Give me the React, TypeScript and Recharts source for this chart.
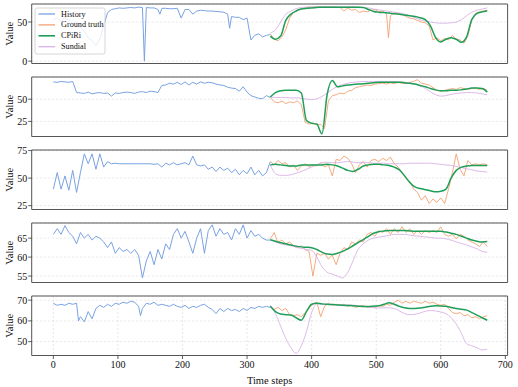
import React from 'react';
import { LineChart, Line, XAxis, YAxis, CartesianGrid, ReferenceArea } from 'recharts';

// ---------- axes / sampling ----------
const X_TICKS = [0, 100, 200, 300, 400, 500, 600, 700];
const X_DOMAIN: [number, number] = [-33.5, 703.5];
const HIST_START = 0;
const HIST_STEP = 6;
const GT_START = 336;
const GT_STEP = 6;
const FC_START = 336;
const FC_STEP = 8;

const SERIES_NAMES = ['History', 'Ground truth', 'CPiRi', 'Sundial'];

// ---------- panel 1 ----------
const p1History = [53,55,50,56,52,48,50,44,38,30, 26,20,28,45,62,66,67,68,67.5,68, 68.5,68,69,68.5,68.5,68,68,66,67.5,67.5, 67,67,67.5,55,66,66,60,64,65,64.5, 64,64,63.5,63,62.5,60,57,56,56,53, 55,27,33,35,31,33,34];
const p1HistorySpikes: [number, number][] = [[141, 0], [165, 60], [273, 42]];
const p1Truth = [35,28,26,31,40,55,62,65,67,68, 69,69,69.5,69,69.5,69,69.5,69,68.5,64, 68,65,66,62,64,63,65,66,63,64, 60,58,62,61,60,57,55,54,52,50, 49,45,27,30,26,29,27,33,28,27, 23,32,53,61,63,64,65];
const p1TruthSpikes: [number, number][] = [[519, 30]];
const p1CPiRi = [32,28,32,52,60,64,66.5,67.5,68,68.5, 69,69,69,69,69,69,69,69,68.5,66, 63.5,62.5,62,61.5,60.5,60,59,58,57,55.5, 53,45,30,24.5,28,30,28,24,31,53, 61,63,64.5];
const p1Sundial = [36,40,50,60,64,67,68.5,69,69.5,69.5, 69.5,69.5,69.5,69.5,69.5,69.5,69.5,69,68.5,68, 66.5,65.5,64.5,63.5,62.5,61.5,60,58,55.5,53, 51,50,49,48.5,48.5,49,50,53,58,62.5, 65,66.5,68];
const p1YTicks = [0, 50];
const p1YDomain: [number, number] = [-3, 73];

// ---------- panel 2 ----------
const p2History = [69.5,69,70,69.5,69,70,57.5,57,56.5,58, 56,57,57.5,56.5,57,53.5,57,56.5,57.5,58, 57.5,56.5,58,58.5,57.5,59,58.5,57.5,65.5,66, 68,67,69,66.5,69.5,66,69,67,69.5,68, 69,68.5,67,66,65.5,63.5,62.5,62,59,64, 58,54,52.5,51,50.5,54,52];
const p2Truth = [52,47,46,48,45,47,46,48,44,24, 22,23,21,22,17,48,54,55,57,56, 59,60,63,64,65,66,65.5,67,67.5,68, 67,68.5,67.5,69,68,67.5,69,70,72,68, 67,66,63,60,59,60,61,62,61,63, 62,61,62,62.5,61,62,60];
const p2CPiRi = [52.5,57.5,59.5,60,60,60,57,26,23,22, 11,55,71,64,65,66,66.5,67,67.5,68, 68.5,69,69,69,69,69,68.5,68,67,65.5, 64,62,60.5,59.5,59.5,60,60,60.5,61.5,62.5, 62.5,62,58];
const p2Sundial = [52.5,52,52,52,51.5,51.5,51,50,49.5,50.5, 53,57,61,64.5,66.5,68,69,69.5,70,70, 70,70,70,70,70,69.5,69,68.5,67,65, 62,58.5,55,53.5,54,55.5,56.5,57,57.5,57.5, 57,56,55];
const p2YTicks = [25, 50];
const p2YDomain: [number, number] = [8, 75];

// ---------- panel 3 ----------
const p3History = [40,55,40,52,39,57,37,55,72,63, 72,58,72,60,65,63,63.5,63,63,63, 63,63,63,63,63,63,62.5,63,60,63.5, 62,64,62,63,64,62,70,62,61,62, 58,60,56,60,57,59,55,58,53,57, 54,60,53,57,52,55,65];
const p3Truth = [65,62,66,63,64,60,62,57,61,63, 60,62,61,64,60,62,52,67,66,70, 68,63,55,62,65,60,66,67,65,68, 66,69,63,60,55,50,47,40,37,30, 34,27,31,28,32,27,40,55,72,58, 52,66,62,63,62,63,62];
const p3CPiRi = [62,62.5,62,61.5,61,61,62,62,62,62, 62,62.5,62,61,59,57,56,58,61,62, 62.5,62.5,62,61.5,60,57.5,52,46,42,40.5, 39.5,38.5,37.5,38,40,50,57,60,61,61.5, 61.5,61.5,61.5];
const p3Sundial = [62,54,52.5,52.5,53,54.5,56,58,60,62, 64,64.5,64,64,64.5,65,64.5,64,64,64, 63.5,63.5,63.5,63,63,63,63,63.5,63.5,63.5, 63.5,63.5,63,62.5,62,61.5,60.5,59.5,58.5,57.5, 56.5,56,55.5];
const p3YTicks = [25, 50, 75];
const p3YDomain: [number, number] = [21.5, 75.5];

// ---------- panel 4 ----------
const p4History = [66,67.5,66,68.3,66.5,65.5,63.5,66.5,65,66, 64.5,65.5,65,64,62.5,64,61,62.5,61.5,62, 61,62,60.5,54.5,59,61.5,58,62,59.5,63.5, 62,66,67.5,65,66.8,64,61,65,67.5,61, 67,68.5,65.5,67.5,66,66.5,64.5,67.5,66,68.5, 65,67,65.5,66,65,64.5,64.5];
const p4Truth = [64.8,66.5,63.8,64.5,63.5,64,63,62.5,63,62, 61.5,55,61,60.5,61,59.5,60.5,58,61,62.5, 62,64,63.5,64.5,64,66,66.5,65.5,67,66.5, 67.5,66,67.5,66.5,68,66.5,67.5,66,67,66, 67,66.5,67,66.5,68,66,65.5,66,64.8,66, 65.5,64.5,64,63.5,62.8,64,62.8];
const p4CPiRi = [64.6,64.2,63.8,63.5,63.2,62.9,62.7,62.6,62.5,62, 61.3,60.8,60.7,61,61.5,62.2,63,63.8,64.6,65.5, 66.3,66.7,66.9,67,67,67,67,66.9,66.8,66.8, 66.8,66.8,66.8,66.8,66.6,66.3,66,65.5,65,64.5, 64.2,64,64.1];
const p4Sundial = [64.6,64,63.5,63.2,63,62.6,62.3,62,61.8,60, 57.5,56,55.5,55,54.5,56,59,62,63.5,64.5, 65,65.3,65.5,65.7,66,66,66,65.8,65.6,65.5, 65.3,65.2,65,65,64.8,64.5,64,63.6,63.2,62.7, 62.2,61.5,61.3];
const p4YTicks = [55, 60, 65];
const p4YDomain: [number, number] = [53.3, 69];

// ---------- panel 5 ----------
const p5History = [68.5,67.5,68,67.5,68.5,68,68.5,62,59.5,64.5, 61,66,67.5,66.5,68,67,68.5,68,69,68.5, 69.5,69,67,66,68.5,68,69,67.5,68,67.5, 67,68,67,66.5,67.5,66,67,66.5,67.5,68, 66.5,65.5,63.5,66,64.5,66,65,65.5,64.5,66, 65,66.5,66,67,66.5,67,66.5];
const p5HistorySpikes: [number, number][] = [[39, 60], [135, 62.5]];
const p5Truth = [67,65.5,66.5,65,66,63,62.5,63,62,64, 66,68,69,62,67,68.5,67.5,68,67.5,68, 67,67.5,66.5,67,67.5,66.5,67,66.5,67.5,67, 68,67.5,69,70,68.5,69.5,68.5,69.5,69,68.5, 69.5,68.5,69,68,67.5,68,66,64,63.5,64, 62.5,63,61.5,62,61,62,62.5];
const p5CPiRi = [67,64.5,63.3,63,62.8,61.5,60.3,64.5,68,68.5, 68.2,68,67.9,67.7,67.5,67.4,67.3,67.1,66.9,66.9, 67.1,67.3,68,68.8,68,67,66.3,66,66,66.2, 66.6,67.1,67.3,67.2,67,66.5,66,65.6,65.2,64, 62.8,61.5,60.3];
const p5Sundial = [67.5,63.5,57.5,51.5,47,44.3,48,54.8,64,68.2, 68,68,67.9,67.8,67.8,67.7,67.6,67.3,67,66.6, 66.3,66.2,66.3,66.3,66,64.8,63.5,63,63.2,63.8, 64.6,65,64.8,64.3,63.5,61.5,58.5,54,49,48, 47,46,46.3];
const p5YTicks = [50, 60, 70];
const p5YDomain: [number, number] = [43.3, 72];

// ---------- styles ----------
const FONT = '"Liberation Serif", "Times New Roman", "DejaVu Serif", serif';
const COLORS = {
  history: '#78a2e2',
  truth: '#f2a272',
  cpiri: '#1f9e57',
  sundial: '#d8b2e6',
};
const PLOT_H = 59.5;
const MT = 8;
const PANEL_TOPS = [4, 77, 150, 223, 296];

type Pair = [number, number];
const toPairs = (start: number, step: number, values: number[], extra: Pair[] = []): Pair[] => [
  ...values.map((v, i) => [start + i * step, v] as Pair),
  ...extra,
];

function buildRows(sets: Record<string, Pair[]>) {
  const map = new Map<number, any>();
  Object.keys(sets).forEach((key) => {
    sets[key].forEach(([t, v]) => {
      if (!map.has(t)) map.set(t, { t });
      map.get(t)[key] = v;
    });
  });
  return Array.from(map.values()).sort((a, b) => a.t - b.t);
}

const panels = [
  { h: p1History, hs: p1HistorySpikes, g: p1Truth, gs: p1TruthSpikes, c: p1CPiRi, s: p1Sundial, yd: p1YDomain, yt: p1YTicks },
  { h: p2History, hs: [], g: p2Truth, gs: [], c: p2CPiRi, s: p2Sundial, yd: p2YDomain, yt: p2YTicks },
  { h: p3History, hs: [], g: p3Truth, gs: [], c: p3CPiRi, s: p3Sundial, yd: p3YDomain, yt: p3YTicks },
  { h: p4History, hs: [], g: p4Truth, gs: [], c: p4CPiRi, s: p4Sundial, yd: p4YDomain, yt: p4YTicks },
  { h: p5History, hs: p5HistorySpikes, g: p5Truth, gs: [], c: p5CPiRi, s: p5Sundial, yd: p5YDomain, yt: p5YTicks },
].map((p) => ({
  rows: buildRows({
    history: toPairs(HIST_START, HIST_STEP, p.h, p.hs as Pair[]),
    truth: toPairs(GT_START, GT_STEP, p.g, p.gs as Pair[]),
    cpiri: toPairs(FC_START, FC_STEP, p.c),
    sundial: toPairs(FC_START, FC_STEP, p.s),
  }),
  yDomain: p.yd,
  yTicks: p.yt,
}));

const tickStyle = { fill: '#111', fontSize: 10, fontFamily: FONT };

function Panel({ top, rows, yDomain, yTicks, last }: any) {
  const xh = last ? 20 : 4;
  return (
    <div style={{ position: 'absolute', left: 0, top: top - MT }}>
      <LineChart
        width={518}
        height={MT + PLOT_H + xh}
        data={rows}
        margin={{ top: MT, right: 10.4, bottom: 0, left: 4.7 }}
      >
        <CartesianGrid stroke="#d6d6d6" strokeDasharray="2 2" strokeWidth={0.6} />
        <XAxis
          dataKey="t"
          type="number"
          domain={X_DOMAIN}
          allowDataOverflow
          ticks={X_TICKS}
          interval={0}
          height={xh}
          axisLine={false}
          tickSize={3.5}
          tickLine={{ stroke: '#333', strokeWidth: 0.8 }}
          tick={last ? tickStyle : false}
          tickMargin={1.5}
        />
        <YAxis
          type="number"
          domain={yDomain}
          allowDataOverflow
          ticks={yTicks}
          interval={0}
          width={27}
          axisLine={false}
          tickSize={3.5}
          tickLine={{ stroke: '#333', strokeWidth: 0.8 }}
          tick={tickStyle}
          tickMargin={1}
        />
        <Line dataKey="history" type="linear" stroke={COLORS.history} strokeWidth={1} dot={false} activeDot={false} connectNulls isAnimationActive={false} />
        <Line dataKey="truth" type="linear" stroke={COLORS.truth} strokeWidth={0.9} dot={false} activeDot={false} connectNulls isAnimationActive={false} />
        <Line dataKey="sundial" type="monotone" stroke={COLORS.sundial} strokeWidth={0.9} dot={false} activeDot={false} connectNulls isAnimationActive={false} />
        <Line dataKey="cpiri" type="monotone" stroke={COLORS.cpiri} strokeWidth={1.5} dot={false} activeDot={false} connectNulls isAnimationActive={false} />
        <ReferenceArea
          x1={X_DOMAIN[0]}
          x2={X_DOMAIN[1]}
          y1={yDomain[0]}
          y2={yDomain[1]}
          fill="none"
          fillOpacity={0}
          stroke="#555"
          strokeWidth={1}
          ifOverflow="visible"
        />
      </LineChart>
    </div>
  );
}

const LEGEND_COLORS = [COLORS.history, COLORS.truth, COLORS.cpiri, COLORS.sundial];

export default function App() {
  return (
    <div style={{ position: 'absolute', left: 0, top: 0, width: 518, height: 387, background: '#fff', fontFamily: FONT }}>
      {panels.map((p, i) => (
        <Panel key={i} top={PANEL_TOPS[i]} rows={p.rows} yDomain={p.yDomain} yTicks={p.yTicks} last={i === panels.length - 1} />
      ))}
      <svg width={518} height={387} style={{ position: 'absolute', left: 0, top: 0, pointerEvents: 'none' }}>
        {PANEL_TOPS.map((t, i) => (
          <text
            key={i}
            x={9.5}
            y={t + PLOT_H / 2}
            transform={`rotate(-90, 9.5, ${t + PLOT_H / 2})`}
            textAnchor="middle"
            dominantBaseline="central"
            fontFamily={FONT}
            fontSize={10.5}
            fill="#111"
          >
            Value
          </text>
        ))}
        <text x={269.6} y={384} textAnchor="middle" fontFamily={FONT} fontSize={10.5} fill="#111">
          Time steps
        </text>
        <rect x={35} y={8} width={70} height={46} rx={2} fill="#fff" fillOpacity={0.8} stroke="#cccccc" strokeWidth={0.8} />
        {SERIES_NAMES.map((name, i) => (
          <g key={name}>
            <line x1={38.5} x2={55} y1={14 + i * 10.9} y2={14 + i * 10.9} stroke={LEGEND_COLORS[i]} strokeWidth={i === 2 ? 1.6 : 1.3} />
            <text x={61} y={14 + i * 10.9} dominantBaseline="central" fontFamily={FONT} fontSize={8.2} fill="#111">
              {name}
            </text>
          </g>
        ))}
      </svg>
    </div>
  );
}
